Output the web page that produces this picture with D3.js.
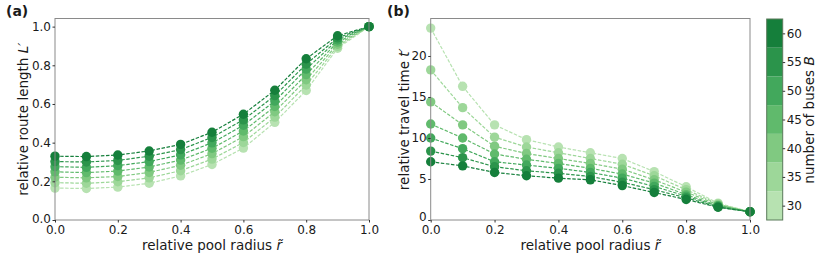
<!DOCTYPE html>
<html><head><meta charset="utf-8">
<script src="https://cdn.jsdelivr.net/npm/d3@7"></script>
<style>
body{margin:0;background:#fff;}
svg{font-family:"DejaVu Sans",sans-serif;}
</style></head>
<body><svg id="c" width="830" height="267"></svg>
<script>
// ---- data ----
const radius = [0,0.1,0.2,0.3,0.4,0.5,0.6,0.7,0.8,0.9,1.0];
const buses = [30,35,40,45,50,55,60];
// relative route length L' (panel a), one row per bus count
const routeLength = [
  [0.165,0.163,0.170,0.190,0.228,0.287,0.372,0.505,0.670,0.888,1],
  [0.193,0.190,0.198,0.218,0.255,0.315,0.401,0.532,0.698,0.898,1],
  [0.221,0.218,0.225,0.246,0.283,0.343,0.431,0.560,0.725,0.909,1],
  [0.249,0.245,0.253,0.274,0.310,0.371,0.460,0.587,0.752,0.920,1],
  [0.276,0.272,0.281,0.302,0.337,0.399,0.490,0.615,0.780,0.931,1],
  [0.302,0.300,0.308,0.330,0.364,0.427,0.518,0.643,0.806,0.942,1],
  [0.330,0.328,0.336,0.357,0.391,0.454,0.547,0.671,0.834,0.953,1]
];
// relative travel time t' (panel b)
const travelTime = [
  [23.4,16.3,11.6,9.8,8.9,8.2,7.5,5.9,4.05,2.05,1],
  [18.3,13.7,10.1,8.9,8.2,7.5,6.8,5.4,3.7,1.95,1],
  [14.4,11.6,9.0,8.1,7.5,6.9,6.2,4.9,3.4,1.85,1],
  [11.7,10.0,8.05,7.4,6.9,6.3,5.6,4.5,3.1,1.75,1],
  [10.0,8.7,7.1,6.7,6.3,5.8,5.1,4.1,2.9,1.7,1],
  [8.4,7.6,6.5,6.0,5.7,5.3,4.6,3.7,2.7,1.6,1],
  [7.1,6.6,5.8,5.4,5.1,4.9,4.2,3.35,2.5,1.55,1]
];
const xTicks = [0,0.2,0.4,0.6,0.8,1.0];
const yTicksA = [0,0.2,0.4,0.6,0.8,1.0];
const yTicksB = [0,5,10,15,20];
const cbTicks = [30,35,40,45,50,55,60];

// ---- drawing ----
const svg = d3.select("#c");
const color = d3.scaleOrdinal().domain(buses)
  .range(buses.map((b,i)=>d3.interpolateGreens(0.3 + i*0.5/6)));
const topY = 18.5, bottomY = 220;
const spine = "#8a8a8a";

function panel(x0, x1, ymax, data, yTicks, yFmt, label, ylabel, ylabX, zeroDy){
  const x = d3.scaleLinear().domain([0,1]).range([x0,x1]);
  const y = d3.scaleLinear().domain([0,ymax]).range([bottomY,topY]);
  const g = svg.append("g");
  const line = d3.line().x((d,i)=>x(radius[i])).y(d=>y(d));
  data.forEach((row,k)=>{
    const c = color(buses[k]);
    g.append("path").attr("d", line(row)).attr("fill","none")
      .attr("stroke",c).attr("stroke-width",1.2).attr("stroke-dasharray","3.5,1.6");
    g.selectAll(null).data(row).enter().append("circle")
      .attr("cx",(d,i)=>x(radius[i])).attr("cy",d=>y(d)).attr("r",4.7).attr("fill",c);
  });
  // frame
  g.append("rect").attr("x",x0).attr("y",topY).attr("width",x1-x0).attr("height",bottomY-topY)
    .attr("fill","none").attr("stroke",spine).attr("stroke-width",1);
  const ax = g.append("g").attr("transform",`translate(0,${bottomY})`)
    .call(d3.axisBottom(x).tickValues(xTicks).tickFormat(d3.format(".1f")).tickSize(2.5).tickPadding(2.5));
  const ay = g.append("g").attr("transform",`translate(${x0},0)`)
    .call(d3.axisLeft(y).tickValues(yTicks).tickFormat(yFmt).tickSize(2.5).tickPadding(1.5));
  [ax,ay].forEach(a=>{
    a.select(".domain").remove();
    a.selectAll("text").attr("font-size",12).attr("fill","#1a1a1a").attr("font-family","DejaVu Sans");
    a.selectAll("line").attr("stroke","#333");
  });
  // lift the bottom y tick label slightly so it does not collide with the x tick label
  ay.selectAll(".tick").filter(d=>d===0).select("text").attr("dy",zeroDy);
  // x label
  const xl = g.append("text").attr("x",(x0+x1)/2).attr("y",250).attr("text-anchor","middle")
    .attr("font-size",13.5).attr("fill","#1a1a1a");
  xl.append("tspan").text("relative pool radius ");
  xl.append("tspan").attr("font-style","italic").text("r\u0303");
  // y label
  const yl = g.append("text").attr("transform",`translate(${ylabX},${(topY+bottomY)/2}) rotate(-90)`)
    .attr("text-anchor","middle").attr("font-size",13.5).attr("fill","#1a1a1a");
  yl.append("tspan").text(ylabel[0]);
  yl.append("tspan").attr("font-style","italic").text(ylabel[1]);
  // panel label
  svg.append("text").attr("x",label[1]).attr("y",16).attr("font-size",14)
    .attr("font-weight","bold").attr("fill","#1a1a1a").text(label[0]);
}

panel(55, 369, 1.042, routeLength, yTicksA, d3.format(".1f"), ["(a)",6], ["relative route length ","L\u2032"], 28, "0.2em");
panel(430.7, 750, 24.57, travelTime, yTicksB, d3.format("d"), ["(b)",387], ["relative travel time ","t\u2032"], 409, "0.08em");

// colorbar
const cbx = 766.7, cbw = 16;
const cy = d3.scaleLinear().domain([27.5,62.5]).range([bottomY,19]);
const cb = svg.append("g");
buses.forEach(b=>{
  cb.append("rect").attr("x",cbx).attr("width",cbw)
    .attr("y",cy(b+2.5)).attr("height",cy(b-2.5)-cy(b+2.5)).attr("fill",color(b));
});
cb.append("rect").attr("x",cbx).attr("y",19).attr("width",cbw).attr("height",bottomY-19)
  .attr("fill","none").attr("stroke","#5a7a5a").attr("stroke-width",1);
const cax = cb.append("g").attr("transform",`translate(${cbx+cbw},0)`)
  .call(d3.axisRight(cy).tickValues(cbTicks).tickFormat(d3.format("d")).tickSize(2.5).tickPadding(1.5));
cax.select(".domain").remove();
cax.selectAll("text").attr("font-size",12).attr("fill","#1a1a1a").attr("font-family","DejaVu Sans");
cax.selectAll("line").attr("stroke","#333");
const cl = svg.append("text").attr("transform",`translate(814,120) rotate(-90)`)
  .attr("text-anchor","middle").attr("font-size",13.5).attr("fill","#1a1a1a");
cl.append("tspan").text("number of buses ");
cl.append("tspan").attr("font-style","italic").text("B");
</script></body></html>
